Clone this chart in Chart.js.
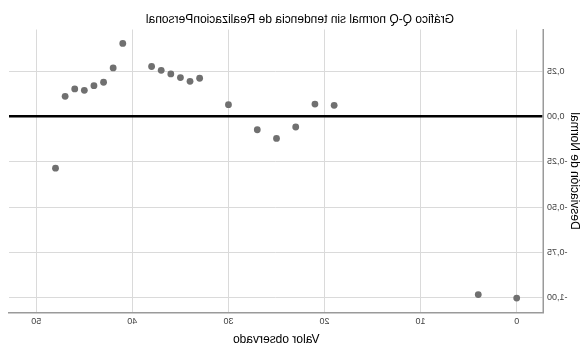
<!DOCTYPE html>
<html>
<head>
<meta charset="utf-8">
<script src="https://cdn.jsdelivr.net/npm/chart.js@4/dist/chart.umd.min.js"></script>
<style>
  html, body { margin: 0; padding: 0; background: #fff; }
  #wrap { width: 584px; height: 346px; transform: scaleX(-1); }
  canvas { display: block; }
</style>
</head>
<body>
<div id="wrap"><canvas id="c" width="584" height="346"></canvas></div>
<script>
// Data read from the (mirrored) reference picture
const chartTitle = 'Gráfico Q-Q normal sin tendencia de RealizacionPersonal';
const xTitle = 'Valor observado';
const yTitle = 'Desviación de Normal';
const observed  = [0, 4, 19, 21, 23, 25, 27, 30, 33, 34, 35, 36, 37, 38, 41, 42, 43, 44, 45, 46, 47, 48];
const deviation = [-1.004, -0.985, 0.063, 0.070, -0.057, -0.120, -0.072, 0.067, 0.213, 0.196, 0.217, 0.237, 0.257, 0.278, 0.406, 0.270, 0.191, 0.172, 0.146, 0.154, 0.113, -0.285];
const xTicks = [0, 10, 20, 30, 40, 50];
const yTicks = [0.25, 0, -0.25, -0.5, -0.75, -1];

const FONT = '"Liberation Sans", Arial, sans-serif';
const points = observed.map((x, i) => ({ x: x, y: deviation[i] }));

const titlePlugin = {
  id: 'mirrorTitle',
  afterDraw(chart) {
    const ctx = chart.ctx;
    ctx.save();
    ctx.font = '12px ' + FONT;
    ctx.fillStyle = '#000';
    ctx.textAlign = 'center';
    ctx.textBaseline = 'middle';
    ctx.fillText(chartTitle, 284, 20);
    ctx.restore();
  }
};

const fmt = v => v.toFixed(2).replace('.', ',');

new Chart(document.getElementById('c'), {
  type: 'scatter',
  data: {
    datasets: [{
      data: points,
      backgroundColor: '#707070',
      borderColor: '#707070',
      borderWidth: 0,
      pointRadius: 3.4,
      pointHoverRadius: 3.4
    }]
  },
  options: {
    responsive: false,
    animation: false,
    devicePixelRatio: 1,
    layout: { padding: { top: 29.5, right: 9, bottom: 0, left: 0 } },
    plugins: { legend: { display: false }, tooltip: { enabled: false }, title: { display: false } },
    scales: {
      x: {
        type: 'linear',
        min: -2.79,
        max: 52.84,
        afterBuildTicks: s => { s.ticks = xTicks.map(v => ({ value: v })); },
        afterFit: s => { s.height = 33.5; },
        grid: { color: '#dadada', lineWidth: 1, drawTicks: false },
        border: { color: '#9a9a9a', width: 1.5 },
        ticks: { padding: 4, color: '#444', font: { family: FONT, size: 9 }, callback: v => String(v) },
        title: { display: true, text: xTitle, color: '#000', font: { family: FONT, size: 12, lineHeight: 1 }, padding: { top: 4, bottom: 0 } }
      },
      y: {
        type: 'linear',
        min: -1.084,
        max: 0.483,
        afterBuildTicks: s => { s.ticks = yTicks.map(v => ({ value: v })); },
        afterFit: s => { s.width = 40.5; },
        grid: {
          color: c => (c.tick && c.tick.value === 0) ? '#000' : '#dadada',
          lineWidth: c => (c.tick && c.tick.value === 0) ? 2.5 : 1,
          drawTicks: false
        },
        border: { color: '#9a9a9a', width: 1.5 },
        ticks: { padding: 3.5, color: '#444', font: { family: FONT, size: 9 }, callback: v => fmt(v) },
        title: { display: true, text: yTitle, color: '#000', font: { family: FONT, size: 12, lineHeight: 1 }, padding: { top: 4, bottom: 0 } }
      }
    }
  },
  plugins: [titlePlugin]
});
</script>
</body>
</html>
